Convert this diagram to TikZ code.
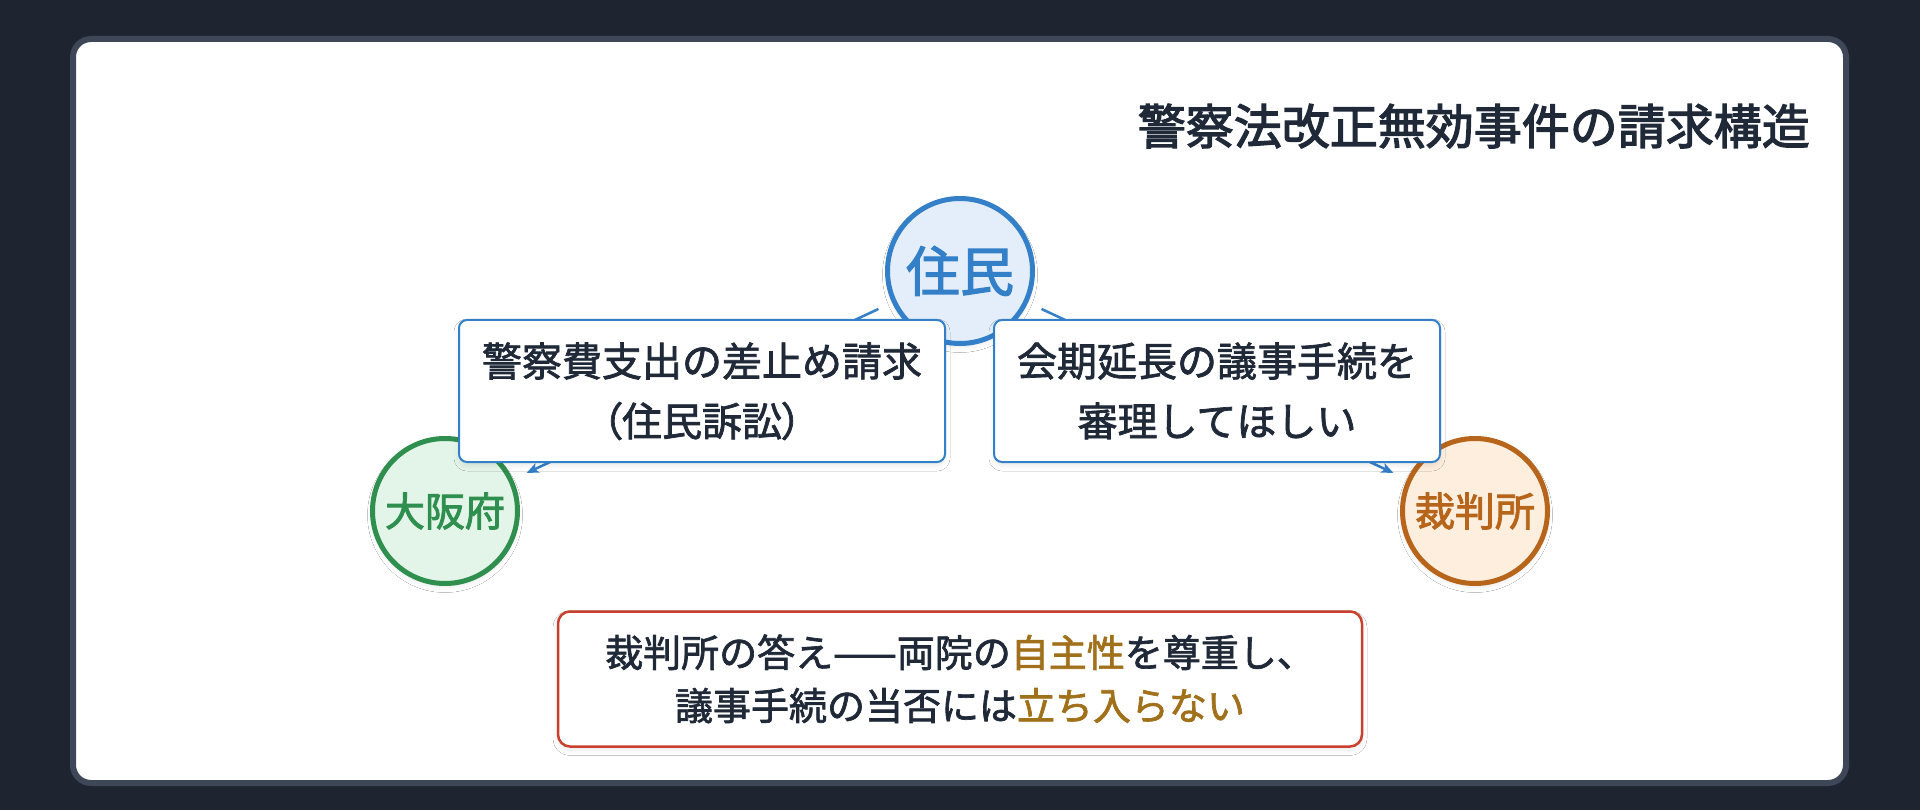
\documentclass[tikz,border=0pt]{standalone}
\usepackage{fontspec}
\setmainfont{Noto Sans CJK JP}[FakeBold=1.8]
\newfontfamily\titlefont{Noto Sans CJK JP}[FakeBold=2.6]
\newfontfamily\labelfont{Noto Sans CJK JP}[FakeBold=2.2]
\usetikzlibrary{arrows.meta,shadows.blur}
\definecolor{bgdark}{RGB}{30,37,48}
\definecolor{cardline}{RGB}{61,71,87}
\definecolor{ink}{RGB}{31,41,55}
\definecolor{blueA}{RGB}{51,128,200}
\definecolor{blueF}{RGB}{228,238,250}
\definecolor{greenA}{RGB}{47,143,78}
\definecolor{greenF}{RGB}{227,244,232}
\definecolor{orangeA}{RGB}{184,101,28}
\definecolor{orangeF}{RGB}{253,238,222}
\definecolor{redA}{RGB}{200,65,45}
\definecolor{goldA}{RGB}{160,112,26}
\newcommand\stk{\rule[-0.12em]{0pt}{1em}}
\newcommand\pparen[1]{{\addfontfeature{RawFeature=+palt}#1}}
\begin{document}
\begin{tikzpicture}[x=1pt,y=-1pt,
  softshadow/.style={blur shadow={shadow xshift=0pt,shadow yshift=-4pt,shadow blur radius=5pt,shadow opacity=8}},
  party/.style={circle,minimum size=145pt,inner sep=0pt,line width=5pt,softshadow},
  claim/.style={draw=blueA,line width=2pt,fill=white,rounded corners=8pt,align=center,
    font=\fontsize{40}{60}\selectfont,text=ink,inner sep=0pt,minimum height=142pt,softshadow},
  answer/.style={draw=redA,line width=2.5pt,fill=white,rounded corners=12pt,align=center,
    font=\fontsize{38}{53}\selectfont,text=ink,inner sep=0pt,softshadow},
  arr/.style={draw=blueA,line width=2.5pt,-{Stealth[length=12pt,width=10pt,inset=3pt]},
    shorten >=15pt,shorten <=15pt}]
\useasboundingbox (0,0) rectangle (1920,810);
\fill[bgdark] (0,0) rectangle (1920,810);
\draw[line width=6pt,draw=cardline,fill=white,rounded corners=18pt] (73,39) rectangle (1846,783);

\node[anchor=east,inner sep=0pt,text=ink,font=\titlefont\fontsize{48}{58}\selectfont] (title) at (1810,126) {\stk 警察法改正無効事件の請求構造};

\node[party,draw=blueA,fill=blueF,text=blueA,font=\labelfont\fontsize{54}{60}\selectfont] (jumin) at (960,271) {\stk 住民};
\node[party,draw=greenA,fill=greenF,text=greenA,font=\labelfont\fontsize{40}{48}\selectfont] (osaka) at (445,511) {\stk 大阪府};
\node[party,draw=orangeA,fill=orangeF,text=orangeA,font=\labelfont\fontsize{40}{48}\selectfont] (court) at (1475,511) {\stk 裁判所};

\draw[arr] (jumin) -- (osaka);
\draw[arr] (jumin) -- (court);

\node[claim,minimum width=486pt] (reqL) at (702,391) {\stk 警察費支出の差止め請求\\\stk \pparen{（}住民訴訟\pparen{）}};
\node[claim,minimum width=446pt] (reqR) at (1217,391) {\stk 会期延長の議事手続を\\\stk 審理してほしい};

\node[answer,minimum width=804pt,minimum height=135pt] (ans) at (960,679) {\stk 裁判所の答え——両院の\textcolor{goldA}{自主性}を尊重し、\\\stk 議事手続の当否には\textcolor{goldA}{立ち入らない}};
\end{tikzpicture}
\end{document}
